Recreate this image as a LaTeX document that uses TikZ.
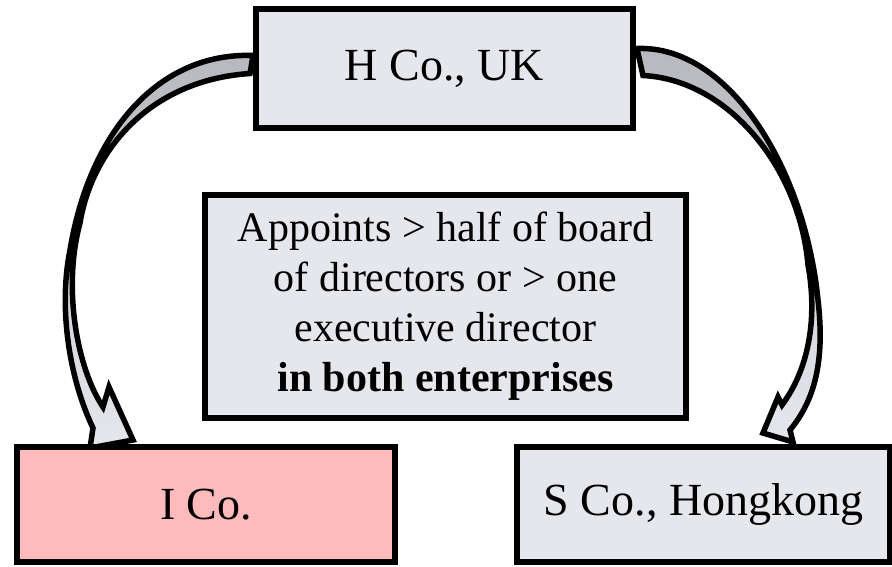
\documentclass[tikz,border=0pt]{standalone}
\usepackage{fontspec}
\setmainfont{Liberation Serif}
\usetikzlibrary{calc}
\usetikzlibrary{backgrounds}
\definecolor{boxgray}{RGB}{230,231,236}
\definecolor{boxpink}{RGB}{255,187,187}
\definecolor{arrowgray}{RGB}{183,184,189}
\tikzset{
  box/.style       = { rectangle, draw=black, line width=6pt, align=center, inner sep=0pt },
  firm/.style      = { box, fill=boxgray, font=\fontsize{46}{55}\selectfont },
  target/.style    = { firm, fill=boxpink },
  criterion/.style = { box, fill=boxgray, font=\fontsize{42}{50}\selectfont },
  bentarrow/.style = { draw=black, line width=5.5pt, line join=miter,
                       top color=arrowgray, bottom color=boxgray }
}
\begin{document}
\begin{tikzpicture}[x=1pt,y=-1pt]
  \useasboundingbox (0,0) rectangle (892,566);

  \node (hco)  [firm,minimum width=377pt,minimum height=119pt]      at (444.5,68.5) {H Co., UK};
  \node (crit) [criterion,minimum width=481pt,minimum height=223pt] at (445.5,306.5)
    {Appoints > half of board\\of directors or > one\\executive director\\\textbf{in both enterprises}};
  \node (ico)  [target,minimum width=378pt,minimum height=115pt]    at (206,504.5) {I Co.};
  \node (sco)  [firm,minimum width=373pt,minimum height=115pt]      at (703.5,504.5) {S Co., Hongkong};

  \begin{scope}[on background layer]
    % H Co. -> I Co.
    \path [bentarrow] ($(hco.west)+(0,-13)$)
      .. controls (160,52) and (90,130) .. (70,250)
      .. controls (58,310) and (70,380) .. (93,428)
      -- (90,448) -- (133,440) -- (109,387) -- (103,407)
      .. controls (78,370) and (62,290) .. (80,223)
      .. controls (92,150) and (150,80) .. ($(hco.west)+(-3,5)$) -- cycle;
    % H Co. -> S Co.
    \path [bentarrow] ($(hco.east)+(1,-20)$)
      .. controls (730,45) and (805,170) .. (818,300)
      .. controls (825,360) and (815,400) .. (790,430)
      -- (793,442) -- (763,433) -- (778,397) -- (782,405)
      .. controls (808,370) and (818,320) .. (808,265)
      .. controls (800,170) and (730,80) .. ($(hco.east)+(7,7)$) -- cycle;
  \end{scope}
\end{tikzpicture}
\end{document}
